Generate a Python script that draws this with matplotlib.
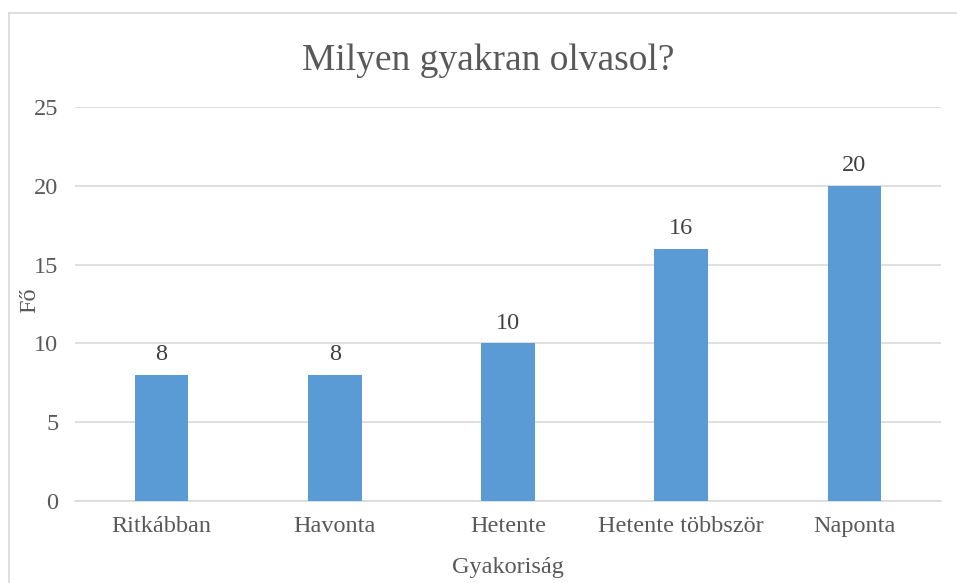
import matplotlib
matplotlib.use("Agg")
import matplotlib.pyplot as plt
from matplotlib.lines import Line2D

categories = ["Ritkábban", "Havonta", "Hetente", "Hetente többször", "Naponta"]
values = [8, 8, 10, 16, 20]
yticks = [0, 5, 10, 15, 20, 25]

plt.rcParams['font.family'] = ['Liberation Serif', 'DejaVu Serif']

W, H = 957, 583
fig = plt.figure(figsize=(W/100, H/100), dpi=100)

left, right, bottom, top = 75, 941, 501, 107
ax = fig.add_axes([left/W, 1 - bottom/H, (right-left)/W, (bottom-top)/H])

x = list(range(len(categories)))
bars = ax.bar(x, values, width=0.31, color='#5B9BD5', zorder=3)
ax.set_xlim(-0.5, len(categories) - 0.5)
ax.set_ylim(0, 25)
ax.set_yticks(yticks)
ax.set_xticks(x)
ax.set_xticklabels(categories)
ax.tick_params(axis='both', length=0, labelsize=17.5, colors='#595959')
ax.tick_params(axis='x', pad=11)
ax.tick_params(axis='y', pad=12)
ax.grid(axis='y', color='#D9D9D9', linewidth=1.2, zorder=0)
for s in ['top', 'right', 'left']:
    ax.spines[s].set_visible(False)
ax.spines['bottom'].set_color('#D9D9D9')
ax.spines['bottom'].set_linewidth(1.2)

for xi, v in zip(x, values):
    ax.annotate(str(v), (xi, v), xytext=(0, 7), textcoords='offset points',
                ha='center', va='bottom', fontsize=17.5, color='#404040')

fig.text(488/W, 1 - 61/H, "Milyen gyakran olvasol?", ha='center', va='center',
         fontsize=27, color='#595959')
fig.text(508/W, 1 - 567/H, "Gyakoriság", ha='center', va='center',
         fontsize=17.5, color='#595959')
fig.text(30/W, 1 - 300/H, "Fő", ha='center', va='center', rotation=90,
         fontsize=17.5, color='#595959')

# chart border (partially visible)
fig.add_artist(Line2D([9/W, 9/W], [0, 1 - 13/H], transform=fig.transFigure,
                      color='#D9D9D9', linewidth=1.2))
fig.add_artist(Line2D([9/W, 1], [1 - 13/H, 1 - 13/H], transform=fig.transFigure,
                      color='#D9D9D9', linewidth=1.2))

fig.savefig("out.png", dpi=100)
